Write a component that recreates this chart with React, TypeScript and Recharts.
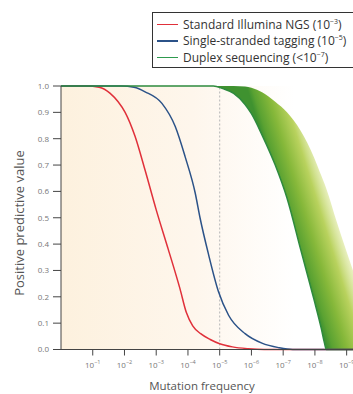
import React from 'react'
import {
  ComposedChart,
  Line,
  Area,
  XAxis,
  YAxis,
  CartesianGrid,
  ReferenceLine,
} from 'recharts'

// x = decades below 1 (mutation frequency 10^-x), y = positive predictive value
const standardX = [0, 0.8, 1.2, 1.55, 1.8, 2.02, 2.33, 2.65, 3.0, 3.38, 3.75, 3.95, 4.15, 4.4, 4.7, 5.0, 5.4, 5.9, 6.4, 9.2]
const standardPPV = [1, 1, 0.995, 0.972, 0.94, 0.9, 0.81, 0.68, 0.53, 0.38, 0.23, 0.14, 0.09, 0.06, 0.038, 0.022, 0.01, 0.003, 0, 0]

const singleX = [0, 1.9, 2.3, 2.65, 3.18, 3.6, 3.91, 4.23, 4.38, 4.65, 4.96, 5.28, 5.8, 6.33, 6.86, 7.3, 9.2]
const singlePPV = [1, 1, 0.995, 0.978, 0.934, 0.846, 0.732, 0.593, 0.5, 0.36, 0.22, 0.13, 0.06, 0.024, 0.007, 0, 0]

const duplexX = [0, 4.8, 5.1, 5.44, 5.8, 6.0, 6.35, 6.75, 7.12, 7.55, 7.97, 8.2, 8.3, 8.36, 8.7, 9.2]
const duplexPPV = [1, 1, 0.99, 0.972, 0.93, 0.895, 0.81, 0.7, 0.575, 0.38, 0.19, 0.08, 0.025, 0, 0, 0]
// outer (faded) edge of the duplex uncertainty band
const duplexEdge = [1, 1, 1, 1, 0.998, 0.993, 0.975, 0.94, 0.9, 0.83, 0.73, 0.66, 0.63, 0.61, 0.48, 0.3]

const yTicks = [0, 0.1, 0.2, 0.3, 0.4, 0.5, 0.6, 0.7, 0.8, 0.9, 1.0]
const xTicks = [1, 2, 3, 4, 5, 6, 7, 8, 9]

const legendItems = [
  { name: 'Standard Illumina NGS (10', exp: '−3', color: '#e0303a' },
  { name: 'Single-stranded tagging (10', exp: '−5', color: '#2b5288' },
  { name: 'Duplex sequencing (<10', exp: '−7', color: '#2e9a4e' },
]

const toRows = (xs: number[], ys: number[]) => xs.map((x, i) => ({ x, y: ys[i] }))
const standardData = toRows(standardX, standardPPV)
const singleData = toRows(singleX, singlePPV)
const duplexData = toRows(duplexX, duplexPPV)
const bandData = duplexX.map((x, i) => ({ x, range: [duplexPPV[i], duplexEdge[i]] }))

const XTick = ({ x, y, payload }: any) => (
  <text x={x} y={y + 10} textAnchor="middle" fontSize={8} fill="#777">
    10
    <tspan dy={-3.5} fontSize={5.5}>
      {'−' + payload.value}
    </tspan>
  </text>
)

export default function App() {
  return (
    <div
      style={{
        position: 'absolute',
        left: 0,
        top: 0,
        width: 353,
        height: 394,
        overflow: 'hidden',
        background: '#fff',
        fontFamily: '"Open Sans", sans-serif',
      }}
    >
      <ComposedChart
        width={353}
        height={394}
        margin={{ top: 86, right: 0, bottom: 14.5, left: 21 }}
      >
        <defs>
          <linearGradient id="bg" x1="0" y1="0" x2="1" y2="0">
            <stop offset="0%" stopColor="#fdf1de" />
            <stop offset="45%" stopColor="#fef6ec" />
            <stop offset="80%" stopColor="#ffffff" />
          </linearGradient>
          <linearGradient id="band" gradientUnits="userSpaceOnUse" x1={262} y1={136} x2={320} y2={118}>
            <stop offset="0%" stopColor="#3f9230" />
            <stop offset="8%" stopColor="#5aa232" />
            <stop offset="30%" stopColor="#86b83a" />
            <stop offset="55%" stopColor="#b9d25e" />
            <stop offset="78%" stopColor="#e2ebaa" stopOpacity={0.7} />
            <stop offset="100%" stopColor="#ffffff" stopOpacity={0} />
          </linearGradient>
        </defs>
        <CartesianGrid horizontal={false} vertical={false} fill="url(#bg)" />
        <XAxis
          dataKey="x"
          type="number"
          domain={[0, 9.2]}
          ticks={xTicks}
          allowDataOverflow
          height={30}
          tickSize={6}
          tick={<XTick />}
          axisLine={{ stroke: '#444' }}
          tickLine={{ stroke: '#444' }}
        />
        <YAxis
          type="number"
          domain={[0, 1]}
          ticks={yTicks}
          width={40}
          tickSize={8}
          tickMargin={4}
          tickFormatter={(v: number) => v.toFixed(1)}
          tick={{ fontSize: 8, fill: '#777' }}
          axisLine={{ stroke: '#444' }}
          tickLine={{ stroke: '#444' }}
        />
        <ReferenceLine x={5} stroke="#b5b5b5" strokeDasharray="2 2" />
        <Area
          data={bandData}
          dataKey="range"
          type="monotone"
          stroke="none"
          fill="url(#band)"
          fillOpacity={1}
          isAnimationActive={false}
        />
        <Line
          data={standardData}
          dataKey="y"
          type="monotone"
          stroke="#e0303a"
          strokeWidth={1.5}
          dot={false}
          isAnimationActive={false}
        />
        <Line
          data={singleData}
          dataKey="y"
          type="monotone"
          stroke="#2b5288"
          strokeWidth={1.5}
          dot={false}
          isAnimationActive={false}
        />
        <Line
          data={duplexData}
          dataKey="y"
          type="monotone"
          stroke="#2e8a3e"
          strokeWidth={1.5}
          dot={false}
          isAnimationActive={false}
        />
      </ComposedChart>

      <div
        style={{
          position: 'absolute',
          left: 19,
          top: 223,
          transform: 'translate(-50%, -50%) rotate(-90deg)',
          whiteSpace: 'nowrap',
          fontSize: 13,
          color: '#555',
        }}
      >
        Positive predictive value
      </div>
      <div
        style={{
          position: 'absolute',
          left: 202,
          top: 385,
          transform: 'translate(-50%, -50%)',
          whiteSpace: 'nowrap',
          fontSize: 11.5,
          color: '#555',
        }}
      >
        Mutation frequency
      </div>

      <div
        style={{
          position: 'absolute',
          left: 152,
          top: 12,
          width: 230,
          height: 56,
          border: '1px solid #333',
          boxSizing: 'border-box',
          padding: '3px 0 0 4px',
          background: '#fff',
        }}
      >
        {legendItems.map((item) => (
          <div
            key={item.name}
            style={{ display: 'flex', alignItems: 'center', height: 16.5, fontSize: 12, color: '#333', whiteSpace: 'nowrap' }}
          >
            <span style={{ display: 'inline-block', width: 21, height: 1.5, background: item.color, marginRight: 5 }} />
            <span>
              {item.name}
              <sup style={{ fontSize: 7 }}>{item.exp}</sup>)
            </span>
          </div>
        ))}
      </div>
    </div>
  )
}
